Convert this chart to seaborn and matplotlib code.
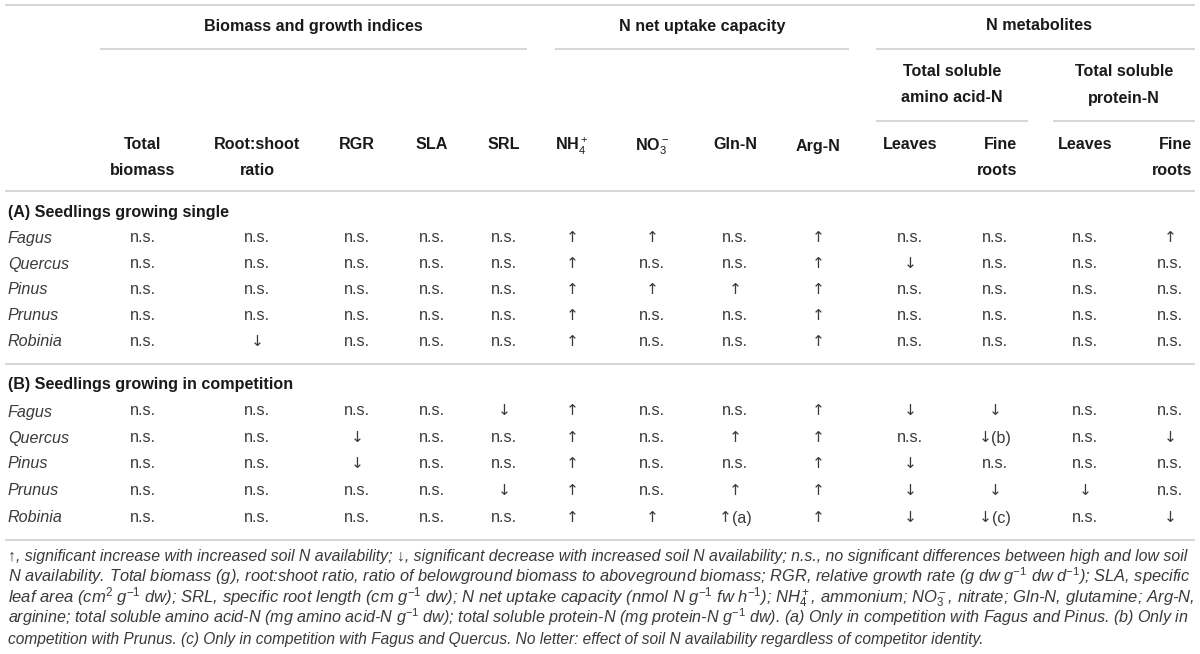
import matplotlib
matplotlib.use("Agg")
import matplotlib.pyplot as plt
import seaborn as sns

# ---- table content ----
group_titles = ["Biomass and growth indices", "N net uptake capacity", "N metabolites"]
sub_titles = [["Total soluble", "amino acid-N"], ["Total soluble", "protein-N"]]
col_labels = [["Total", "biomass"], ["Root:shoot", "ratio"], ["RGR"], ["SLA"], ["SRL"],
              ["NH$_4^+$"], ["NO$_3^-$"], ["Gln-N"], ["Arg-N"],
              ["Leaves"], ["Fine", "roots"], ["Leaves"], ["Fine", "roots"]]
species = ["Fagus", "Quercus", "Pinus", "Prunus", "Robinia"]
section_titles = ["(A) Seedlings growing single", "(B) Seedlings growing in competition"]

U, D, N = "\u2191", "\u2193", "n.s."
single = [
    [N, N, N, N, N, U, U, N, U, N, N, N, U],
    [N, N, N, N, N, U, N, N, U, D, N, N, N],
    [N, N, N, N, N, U, U, U, U, N, N, N, N],
    [N, N, N, N, N, U, N, N, U, N, N, N, N],
    [N, D, N, N, N, U, N, N, U, N, N, N, N],
]
competition = [
    [N, N, N, N, D, U, N, N, U, D, D, N, N],
    [N, N, D, N, N, U, N, U, U, N, D + "(b)", N, D],
    [N, N, D, N, N, U, N, N, U, D, N, N, N],
    [N, N, N, N, D, U, N, U, U, D, D, D, N],
    [N, N, N, N, N, U, U, U + "(a)", U, D, D + "(c)", N, D],
]

footnote = [
    "\u2191, significant increase with increased soil N availability; \u2193, significant decrease with increased soil N availability; n.s., no significant differences between high and low soil",
    "N availability. Total biomass (g), root:shoot ratio, ratio of belowground biomass to aboveground biomass; RGR, relative growth rate (g dw g$^{-1}$ dw d$^{-1}$); SLA, specific",
    "leaf area (cm$^{2}$ g$^{-1}$ dw); SRL, specific root length (cm g$^{-1}$ dw); N net uptake capacity (nmol N g$^{-1}$ fw h$^{-1}$); NH$_4^+$, ammonium; NO$_3^-$, nitrate; Gln-N, glutamine; Arg-N,",
    "arginine; total soluble amino acid-N (mg amino acid-N g$^{-1}$ dw); total soluble protein-N (mg protein-N g$^{-1}$ dw). (a) Only in competition with Fagus and Pinus. (b) Only in",
    "competition with Prunus. (c) Only in competition with Fagus and Quercus. No letter: effect of soil N availability regardless of competitor identity.",
]

# ---- layout (pixel coordinates) ----
col_x = [143, 257, 357, 432, 504, 572, 652, 735, 818, 910, 995, 1085, 1170]
group_spans = [(100, 527), (555, 849), (876, 1195)]
sub_spans = [(876, 1028), (1053, 1195)]

sns.set_theme(style="white")
plt.rcParams["font.family"] = "Liberation Sans"
plt.rcParams["mathtext.fontset"] = "custom"
plt.rcParams["mathtext.rm"] = "Liberation Sans"
plt.rcParams["mathtext.it"] = "Liberation Sans:italic"
plt.rcParams["mathtext.bf"] = "Liberation Sans:bold"

fig = plt.figure(figsize=(12, 6.54), dpi=100)
ax = fig.add_axes([0, 0, 1, 1])
ax.set_xlim(0, 1200)
ax.set_ylim(654, 0)
ax.axis("off")

FS = 11.6
BL = 5.5  # offset from visual centre down to the baseline, px
rule = dict(color="#d0d0d0", lw=1.2)
head = dict(fontsize=FS, fontweight="bold", color="#1a1a1a", va="baseline")
body = dict(fontsize=FS, color="#3a3a3a", va="baseline")
arrow = dict(fontsize=FS - 0.5, color="#3a3a3a", va="baseline", family="DejaVu Sans")

# rules
for y in [5, 191, 364, 540]:
    ax.hlines(y, 5, 1195, **rule)
for x0, x1 in group_spans:
    ax.hlines(49, x0, x1, **rule)
for x0, x1 in sub_spans:
    ax.hlines(121, x0, x1, **rule)

# group headings
for title, (x0, x1) in zip(group_titles, group_spans):
    cx = (x0 + x1) / 2 + (3 if x1 == 1195 else 0)
    ax.text(cx, 26 + BL, title, ha="center", **head)
for lines, (x0, x1) in zip(sub_titles, sub_spans):
    for k, t in enumerate(lines):
        ax.text((x0 + x1) / 2, 72 + 26 * k + BL, t, ha="center", **head)

# column labels
for lines, x in zip(col_labels, col_x):
    for k, t in enumerate(lines):
        if lines[0] == "Fine":
            ax.text(x + 22, 145 + 26 * k + BL, t, ha="right", **head)
        else:
            ax.text(x, 145 + 26 * k + BL, t, ha="center", **head)

renderer = fig.canvas.get_renderer()


def cell(x, y, v):
    # arrow glyphs come from DejaVu, the optional letter from Liberation
    if v[0] in (U, D):
        a = ax.text(x, y, v[0], ha="center", **arrow)
        if len(v) > 1:
            w = a.get_window_extent(renderer).width
            aw = ax.text(0, y, v[1:], ha="left", **body)
            tw = aw.get_window_extent(renderer).width
            start = x - (w + tw) / 2
            a.set_x(start + w / 2)
            aw.set_x(start + w)
    else:
        ax.text(x, y, v, ha="center", **body)


# body
row_y = [[238, 264, 290, 316, 342], [411, 438, 464, 491, 518]]
for sec, rows, ys, ty in zip(section_titles, [single, competition], row_y, [212, 384]):
    ax.text(8, ty + BL, sec, ha="left", **head)
    for name, vals, y in zip(species, rows, ys):
        ax.text(8, y + BL, name, ha="left", fontstyle="italic", **body)
        for v, x in zip(vals, col_x):
            cell(x, y + BL, v)

# keep plain-text baselines steady whether or not a word has descenders
for t in ax.texts:
    s = t.get_text()
    if "$" in s:
        continue
    fp = t.get_fontproperties()
    d = renderer.get_text_width_height_descent(s, fp, ismath=False)[2]
    d_lp = renderer.get_text_width_height_descent("lp", fp, ismath=False)[2]
    x, y = t.get_position()
    t.set_y(y - 0.5 * (d_lp - d))

# footnote: one text per line, full lines scaled to the table width
x_left, x_right = 8, 1191
for k, line in enumerate(footnote):
    y = 556 + k * 20.6 + BL
    t = ax.text(x_left, y, line, fontsize=FS - 0.4, fontstyle="italic",
                color="#3a3a3a", va="baseline", ha="left")
    if k < len(footnote) - 1:
        for _ in range(3):
            w = t.get_window_extent(renderer).width
            t.set_fontsize(t.get_fontsize() * (x_right - x_left) / w)

fig.savefig("out.png", dpi=100, facecolor="white")
